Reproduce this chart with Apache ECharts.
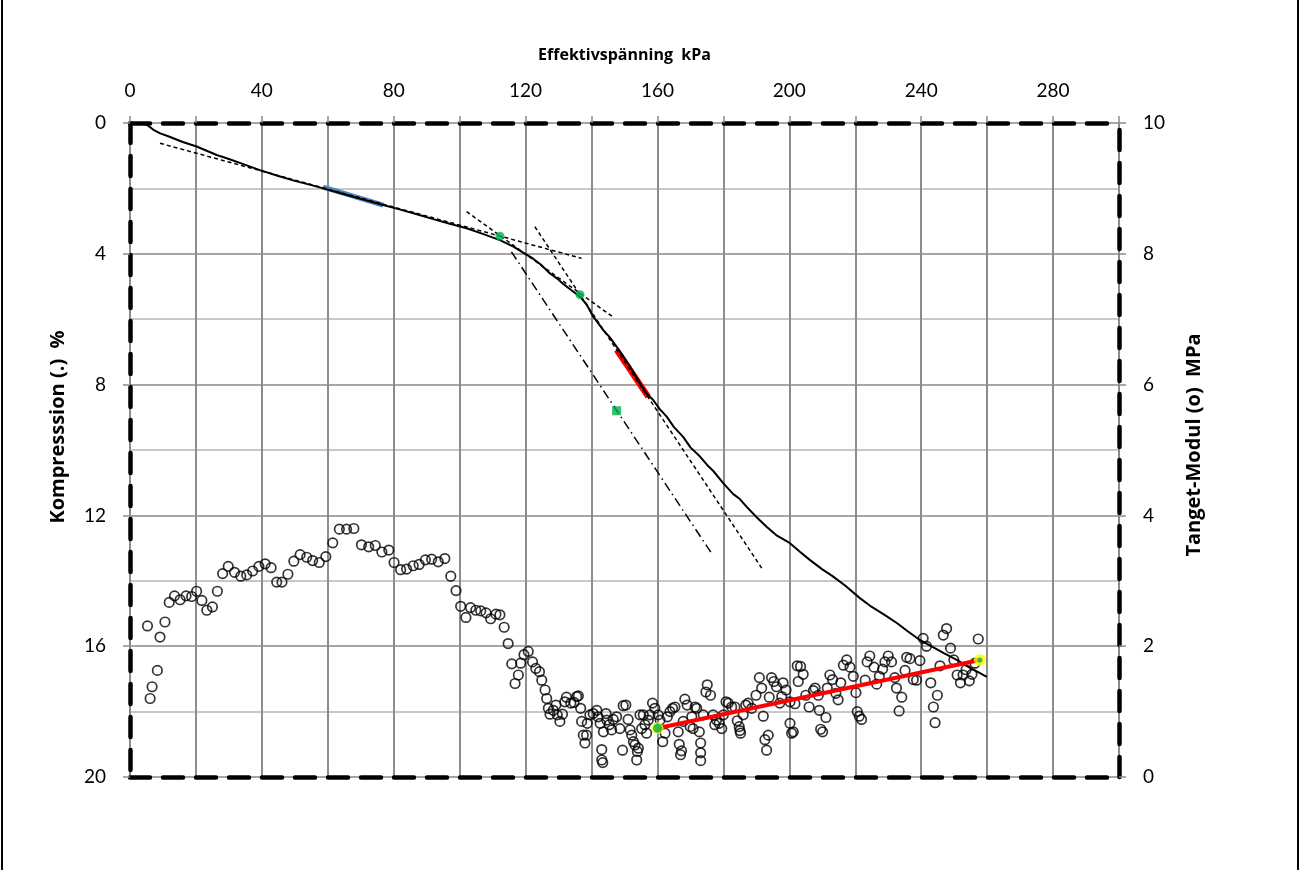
<!DOCTYPE html>
<html>
<head>
<meta charset="utf-8">
<script src="https://cdn.jsdelivr.net/npm/echarts@6/dist/echarts.min.js"></script>
<style>
html, body {margin: 0; padding: 0; background: #fff;}
#chart {width: 1301px; height: 870px;}
</style>
</head>
<body>
<div id="chart"></div>
<script>
// Kompression (%) mot effektivspänning (kPa)
var aCurve = [[0,0],[4,0.01],[5.5,0.08],[7,0.2],[9,0.31],[12,0.42],[16,0.58],[20.2,0.72],[26.3,0.98],[30,1.1],[35,1.28],[39.4,1.44],[45,1.62],[50,1.77],[55,1.9],[58.6,2.0],[65,2.18],[70,2.32],[76.8,2.51],[82,2.65],[87,2.79],[92,2.94],[97,3.08],[102.1,3.22],[107,3.39],[112.2,3.58],[116.3,3.78],[119,3.95],[122.3,4.15],[124.5,4.32],[127.4,4.6],[129.5,4.75],[131.4,4.92],[134,5.12],[136.5,5.31],[138.5,5.55],[140.5,5.92],[142,6.12],[143.5,6.33],[145.5,6.55],[147.6,6.84],[149.5,7.12],[151.7,7.45],[154.7,7.96],[156.7,8.27],[158.7,8.47],[160.7,8.75],[162.8,8.98],[165,9.3],[167.8,9.6],[170,9.92],[172.9,10.2],[175,10.45],[177,10.65],[180,11.02],[183,11.35],[185,11.5],[187,11.73],[190,12.05],[193.1,12.35],[196,12.6],[200.2,12.85],[203.2,13.11],[206.2,13.36],[210,13.65],[213,13.85],[217,14.15],[221.4,14.53],[225,14.8],[229,15.05],[232.6,15.29],[236,15.55],[239.6,15.81],[243,16.0],[247,16.22],[250.8,16.42],[254,16.62],[257,16.78],[259.9,16.94]];
var aBlueSeg = [[58.6,1.96],[76.8,2.51]];
var aRedSeg = [[147.6,6.94],[157.2,8.37]];
var aTangent1 = [[9.1,0.62],[137,4.14]];
var aTangent2 = [[102.1,2.71],[146.6,5.94]];
var aTangent3 = [[122.8,3.17],[192,13.67]];
var aDashDot = [[115.7,3.94],[176.4,13.16]];
var aGreenDots = [[112.2,3.46],[136.5,5.25]];
var aGreenSquare = [[147.6,8.8]];

// Tanget-Modul (MPa)
var aModulus = [[5.3,2.31],[6.1,1.2],[6.7,1.38],[8.3,1.63],[9.1,2.14],[10.6,2.37],[11.9,2.67],[13.5,2.77],[15.2,2.71],[17.0,2.77],[18.7,2.76],[20.2,2.84],[21.8,2.70],[23.3,2.55],[25.0,2.60],[26.5,2.84],[28.1,3.11],[29.8,3.22],[31.7,3.13],[33.6,3.07],[35.4,3.09],[37.2,3.15],[39.1,3.22],[41.0,3.26],[42.8,3.20],[44.5,2.98],[46.1,2.98],[47.9,3.10],[49.7,3.30],[51.6,3.40],[53.6,3.36],[55.4,3.31],[57.4,3.28],[59.4,3.37],[61.5,3.58],[63.5,3.79],[65.7,3.79],[67.9,3.80],[70.2,3.55],[72.4,3.52],[74.4,3.54],[76.4,3.44],[78.5,3.47],[80.1,3.28],[82.1,3.17],[83.9,3.18],[85.9,3.23],[87.7,3.25],[89.6,3.32],[91.5,3.33],[93.5,3.29],[95.5,3.34],[97.3,3.07],[98.9,2.85],[100.3,2.61],[101.9,2.44],[103.3,2.59],[104.9,2.55],[106.4,2.54],[108.0,2.51],[109.4,2.42],[111.0,2.49],[112.2,2.48],[113.5,2.29],[114.7,2.04],[115.8,1.73],[116.8,1.43],[117.8,1.56],[118.5,1.74],[119.5,1.87],[120.8,1.92],[122.1,1.76],[123.1,1.66],[124.2,1.61],[124.9,1.48],[125.9,1.33],[126.4,1.20],[126.9,1.05],[127.4,0.96],[128.4,1.02],[129.2,1.10],[129.6,0.95],[130.4,0.85],[131.2,0.96],[131.9,1.15],[132.4,1.22],[133.7,1.13],[134.7,1.14],[135.5,1.23],[136.0,1.24],[136.7,1.05],[137.0,0.85],[137.5,0.64],[138.0,0.52],[138.5,0.64],[138.7,0.82],[139.5,0.95],[140.5,0.97],[141.6,1.02],[142.0,0.92],[142.6,0.82],[143.1,0.42],[143.1,0.26],[143.4,0.22],[143.6,0.69],[144.4,0.97],[144.6,0.87],[145.4,0.80],[146.1,0.72],[146.6,0.88],[147.6,0.92],[148.6,0.74],[149.4,0.41],[149.6,1.09],[150.4,1.10],[151.1,0.88],[151.7,0.72],[152.2,0.64],[152.7,0.54],[153.2,0.49],[153.7,0.26],[153.9,0.39],[154.2,0.44],[154.7,0.95],[155.2,0.74],[155.7,0.95],[156.2,0.80],[156.7,0.67],[157.2,0.87],[157.7,0.95],[158.5,1.13],[159.2,1.05],[160.2,0.95],[160.8,0.87],[161.6,0.54],[162.3,0.67],[163.0,0.92],[163.8,1.0],[164.6,1.05],[165.3,1.07],[166.3,0.69],[166.6,0.50],[167.0,0.34],[167.3,0.40],[167.8,0.85],[168.3,1.19],[169.0,1.10],[169.9,0.77],[170.4,0.92],[170.8,0.74],[171.4,1.07],[171.9,1.05],[172.7,0.69],[173.1,0.52],[173.1,0.37],[173.1,0.25],[173.9,0.95],[174.7,1.30],[175.1,1.41],[176.1,1.25],[176.9,0.95],[177.4,0.80],[177.9,0.87],[178.7,0.82],[179.5,0.74],[180.0,0.95],[180.8,1.15],[181.5,1.13],[182.5,1.07],[183.5,1.07],[184.2,0.86],[184.8,0.77],[185.0,0.71],[185.2,0.67],[186.0,0.95],[186.8,1.10],[187.5,1.13],[188.6,1.05],[189.9,1.25],[190.9,1.52],[191.6,1.36],[192.1,0.93],[192.6,0.57],[193.1,0.41],[193.6,0.64],[193.9,1.22],[194.6,1.52],[195.3,1.46],[196.1,1.38],[197.1,1.13],[197.7,1.23],[198.1,1.44],[199.0,1.33],[200.2,1.15],[200.2,0.82],[200.7,0.67],[201.2,0.69],[201.7,1.12],[202.4,1.70],[202.7,1.46],[203.4,1.69],[204.2,1.57],[205.0,1.25],[206.0,1.07],[207.3,1.32],[207.8,1.36],[208.8,1.25],[209.1,1.02],[209.5,0.73],[210.1,0.69],[211.1,0.91],[211.5,1.36],[212.3,1.56],[213.1,1.49],[214.1,1.28],[214.8,1.18],[215.6,1.44],[216.4,1.71],[217.4,1.79],[218.4,1.68],[219.4,1.54],[220.2,1.29],[220.6,1.0],[221.2,0.93],[221.9,0.88],[223.0,1.48],[223.6,1.76],[224.4,1.85],[225.7,1.68],[226.5,1.42],[227.3,1.54],[228.3,1.65],[229.0,1.76],[230.0,1.85],[231.0,1.76],[232.0,1.52],[232.5,1.36],[233.3,1.01],[234.1,1.22],[235.1,1.63],[235.6,1.83],[236.6,1.81],[237.6,1.49],[238.6,1.48],[239.6,1.78],[240.6,2.12],[241.6,2.0],[242.9,1.44],[243.7,1.07],[244.2,0.83],[244.9,1.25],[245.7,1.70],[246.7,2.17],[247.7,2.27],[248.9,1.97],[249.9,1.79],[250.9,1.56],[251.9,1.44],[252.7,1.56],[253.6,1.64],[254.6,1.47],[255.4,1.57],[256.3,1.74],[257.3,2.11]];
var aModulusTrend = [[160,0.745],[257.8,1.79]];

var sFont = 'Lato, "Open Sans", sans-serif';
var sNameFont = '"Open Sans", Lato, sans-serif';
var aFrameDash = [20, 13];

function FrameLine() {
    return {show: true, onZero: false, lineStyle: {color: '#000', width: 4.5, type: aFrameDash}};
}

var jOption = {
    animation: false,
    backgroundColor: '#fff',
    graphic: [
        {type: 'line', shape: {x1: 2, y1: 0, x2: 2, y2: 870}, style: {stroke: '#000', lineWidth: 2}},
        {type: 'line', shape: {x1: 1298, y1: 0, x2: 1298, y2: 870}, style: {stroke: '#000', lineWidth: 2}}
    ],
    grid: {left: 130, right: 182, top: 123, bottom: 93},
    xAxis: [
        {
            type: 'value', position: 'top', min: 0, max: 300, interval: 20,
            name: 'Effektivspänning  kPa', nameLocation: 'middle', nameGap: 60,
            nameTextStyle: {fontFamily: sNameFont, fontWeight: 'bold', fontSize: 16, color: '#000'},
            axisLine: FrameLine(),
            axisTick: {show: true, length: 7, lineStyle: {color: '#8c8c8c', width: 1.5}},
            axisLabel: {
                margin: 23, fontFamily: sFont, fontSize: 19, color: '#000',
                formatter: function (v) { return (v % 40 === 0 && v < 300) ? String(v) : ''; }
            },
            splitLine: {show: true, lineStyle: {color: '#8c8c8c', width: 2}}
        },
        {
            type: 'value', position: 'bottom', min: 0, max: 300,
            axisLine: FrameLine(),
            axisTick: {show: false}, axisLabel: {show: false}, splitLine: {show: false}
        }
    ],
    yAxis: [
        {
            type: 'value', position: 'left', inverse: true, min: 0, max: 20, interval: 4,
            name: 'Kompresssion (.)  %', nameLocation: 'middle', nameGap: 62, nameRotate: 90,
            nameTextStyle: {fontFamily: sNameFont, fontWeight: 'bold', fontSize: 20, color: '#000', padding: [0, 0, 0, 46]},
            axisLine: FrameLine(),
            axisTick: {show: true, length: 7, lineStyle: {color: '#8c8c8c', width: 1.5}},
            axisLabel: {margin: 24, fontFamily: sFont, fontSize: 19, color: '#000'},
            splitLine: {show: true, lineStyle: {color: '#a6a6a6', width: 2}},
            minorTick: {show: false, splitNumber: 2},
            minorSplitLine: {show: true, lineStyle: {color: '#c8c8c8', width: 2}}
        },
        {
            type: 'value', position: 'right', min: 0, max: 10, interval: 2,
            name: 'Tanget-Modul (o)  MPa', nameLocation: 'middle', nameGap: 65, nameRotate: 90,
            nameTextStyle: {fontFamily: sNameFont, fontWeight: 'bold', fontSize: 20, color: '#000', padding: [0, 0, 0, 10]},
            axisLine: FrameLine(),
            axisTick: {show: true, length: 7, lineStyle: {color: '#8c8c8c', width: 1.5}},
            axisLabel: {margin: 24, fontFamily: sFont, fontSize: 19, color: '#000'},
            splitLine: {show: false}
        }
    ],
    series: [
        {type: 'line', data: aBlueSeg, showSymbol: false, lineStyle: {color: '#4f81bd', width: 5}, z: 2},
        {type: 'line', data: aRedSeg, showSymbol: false, lineStyle: {color: '#ff0000', width: 6}, z: 2},
        {type: 'line', data: aCurve, showSymbol: false, lineStyle: {color: '#000', width: 2}, z: 3},
        {type: 'line', data: aTangent1, showSymbol: false, lineStyle: {color: '#000', width: 1.5, type: [4, 3]}, z: 3},
        {type: 'line', data: aTangent2, showSymbol: false, lineStyle: {color: '#000', width: 1.5, type: [4, 3]}, z: 3},
        {type: 'line', data: aTangent3, showSymbol: false, lineStyle: {color: '#000', width: 1.5, type: [4, 3]}, z: 3},
        {type: 'line', data: aDashDot, showSymbol: false, lineStyle: {color: '#000', width: 1.5, type: [9, 4, 1.5, 4]}, z: 3},
        {type: 'scatter', data: aGreenDots, symbol: 'circle', symbolSize: 9, itemStyle: {color: '#00b050'}, z: 5},
        {type: 'scatter', data: aGreenSquare, symbol: 'rect', symbolSize: 9, itemStyle: {color: '#00b050'}, z: 5},
        {
            type: 'scatter', yAxisIndex: 1, data: aModulus, symbol: 'circle', symbolSize: 9.5,
            itemStyle: {color: 'rgba(0,0,0,0)', borderColor: '#000', borderWidth: 1.7}, z: 4
        },
        {type: 'line', yAxisIndex: 1, data: aModulusTrend, showSymbol: false, lineStyle: {color: '#ff0000', width: 4}, z: 5},
        {
            type: 'scatter', yAxisIndex: 1, data: aModulusTrend, symbol: 'circle', symbolSize: 12,
            itemStyle: {color: '#ffff00'}, z: 6
        },
        {
            type: 'scatter', yAxisIndex: 1, data: [aModulusTrend[0]], symbol: 'circle', symbolSize: 9,
            itemStyle: {color: '#00b050'}, z: 7
        },
        {
            type: 'scatter', yAxisIndex: 1, data: [aModulusTrend[1]], symbol: 'circle', symbolSize: 5,
            itemStyle: {color: '#00b050'}, z: 7
        }
    ]
};

var myChart = echarts.init(document.getElementById('chart'), null, {renderer: 'canvas'});
myChart.setOption(jOption);
</script>
</body>
</html>
